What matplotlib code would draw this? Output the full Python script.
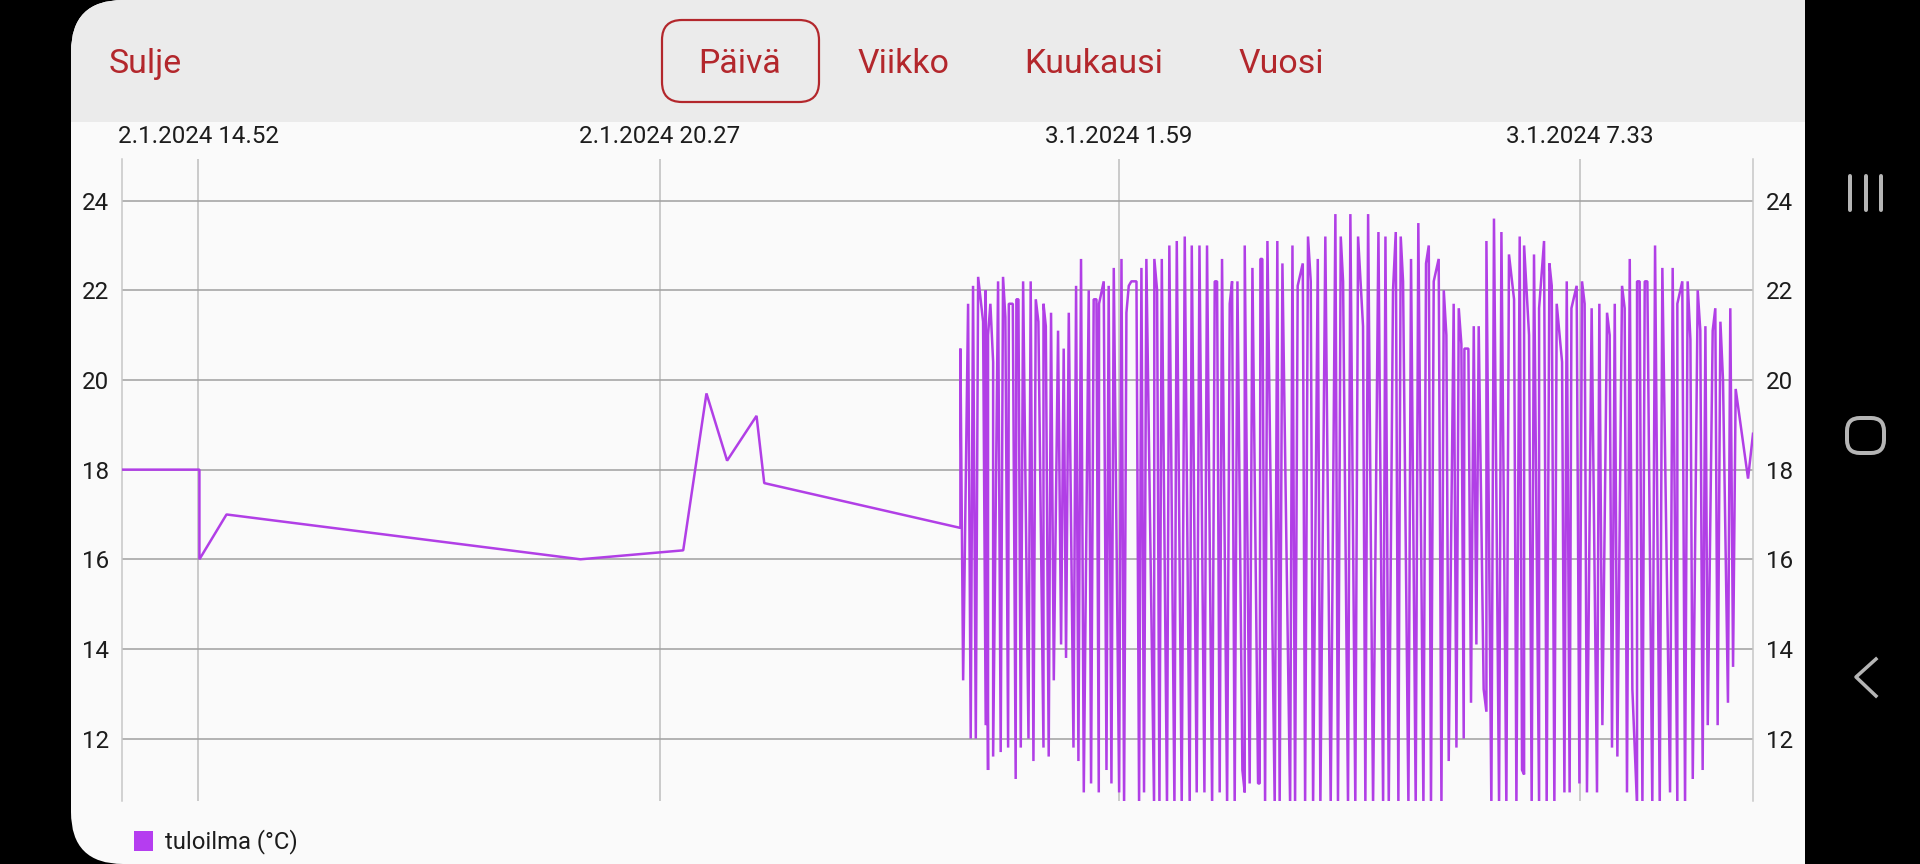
import matplotlib
matplotlib.use('Agg')
import matplotlib.pyplot as plt
from matplotlib.patches import FancyBboxPatch, Rectangle

# minutes after the first date tick (2.1.2024 14.52)
quiet_t = [-55.5, 1.0, 1.0, 20.7, 278, 352.7, 369.6, 384.6, 406, 411.6, 554.2]
quiet_v = [18, 18, 16, 17, 16, 16.2, 19.7, 18.2, 19.2, 17.7, 16.7]

evening_t = [554.2, 556.2, 559.8, 561.7, 563.4, 565.4, 567.1, 570.7, 572.6, 572.6,
             574.3, 574.3, 576.0, 578.0, 578.0, 581.6, 583.5, 585.2, 586.9, 588.9,
             589.4, 592.3, 594.4, 594.9, 596.4, 598.1, 599.8, 603.7, 605.3, 607.3,
             609.0, 610.9, 614.6, 614.6, 616.3, 618.4, 620.1, 622.1, 625.2, 627.4,
             629.3, 631.0, 633.0, 636.4, 638.3, 640.0, 641.9, 643.9, 647.5, 649.2,
             651.1, 653.1, 654.8, 655.0, 658.4, 660.4, 662.0, 664.0, 665.7, 669.6,
             671.3, 673.2, 674.9, 676.6, 678.5, 682.2, 684.1, 685.8, 687.7, 689.4,
             695.0, 695.2, 697.2, 698.9, 700.6, 704.4, 706.1, 709.8, 711.5, 715.1,
             717.3, 720.9, 722.4, 726.0, 728.0, 731.6, 733.5, 737.2, 739.1, 740.8,
             742.7, 744.4, 748.1, 750.0, 751.7, 753.6, 755.6]
evening_v = [20.7, 13.3, 21.7, 12.0, 22.1, 12.0, 22.3, 21.3, 12.3, 22.0,
             11.3, 21.0, 21.7, 20.4, 11.6, 22.2, 11.7, 22.3, 21.4, 11.8,
             21.7, 21.7, 11.1, 21.8, 21.8, 11.8, 22.2, 12.0, 22.2, 11.5,
             21.8, 21.3, 11.8, 21.7, 21.2, 11.6, 21.5, 13.3, 21.1, 14.1,
             20.7, 13.8, 21.5, 11.8, 22.1, 11.5, 22.7, 10.8, 22.0, 11.0,
             21.8, 21.8, 10.8, 21.7, 22.2, 11.3, 22.1, 11.0, 22.5, 10.8,
             22.7, 10.5, 21.5, 22.1, 22.2, 22.2, 10.5, 22.5, 10.8, 22.7,
             10.5, 22.7, 22.0, 10.5, 22.7, 10.5, 23.0, 10.5, 23.1, 10.5,
             23.2, 10.5, 23.0, 10.8, 23.0, 10.8, 23.0, 10.5, 22.2, 22.2,
             10.8, 22.7, 10.5, 21.7, 22.2, 10.5, 22.2]

night_t = [759.2, 760.9, 760.9, 764.5, 766.5, 770.6, 771.8, 772.3, 773.7, 775.7,
           777.4, 782.7, 784.6, 786.3, 788.3, 793.9, 795.6, 797.5, 799.4, 803.1,
           804.8, 806.9, 808.9, 810.6, 814.0, 815.9, 819.5, 823.4, 826.8, 828.7,
           830.7, 832.4, 836.0, 837.7, 841.3, 843.3, 846.9, 848.6, 850.6, 854.2,
           858.1, 861.5, 863.2, 865.6, 868.7, 870.7, 872.6, 874.3, 876.0, 879.9,
           881.8, 885.2, 887.1, 890.8, 892.7, 894.7, 896.3, 898.3, 901.9, 903.9,
           905.6, 907.5, 909.2, 912.8, 914.8, 916.5, 918.4, 920.1, 920.6, 923.5,
           925.4, 927.4, 929.3, 931.0, 934.6, 936.6, 936.6, 940.2, 942.1, 945.8,
           947.5, 951.1, 953.0, 956.7, 958.4]
night_v = [11.3, 10.8, 23.0, 11.0, 22.5, 11.0, 11.0, 22.7, 22.7, 10.5,
           23.1, 10.5, 23.1, 10.5, 22.6, 10.5, 23.0, 10.5, 22.1, 22.6,
           10.5, 23.2, 22.2, 10.5, 22.7, 10.5, 23.2, 10.5, 23.7, 10.5,
           23.2, 22.2, 10.5, 23.7, 10.5, 23.2, 21.2, 10.5, 23.7, 10.5,
           23.3, 10.5, 23.2, 10.5, 22.0, 23.3, 10.5, 23.2, 22.2, 10.5,
           22.7, 10.5, 23.5, 10.5, 22.6, 23.0, 10.5, 22.2, 22.7, 10.5,
           22.0, 21.0, 11.5, 21.7, 11.8, 21.6, 20.8, 12.0, 20.7, 20.7,
           12.8, 21.2, 14.1, 21.2, 13.1, 12.6, 23.1, 10.5, 23.6, 10.5,
           23.3, 10.5, 22.8, 21.8, 10.5]

morning_t = [960.8, 962.5, 964.0, 964.0, 967.6, 969.5, 971.2, 974.9, 974.9, 978.5,
             980.4, 982.4, 984.1, 986.0, 987.7, 991.6, 993.3, 995.0, 997.1, 998.4,
             1002.2, 1004.2, 1006.1, 1008.0, 1009.7, 1013.1, 1017.0, 1018.7, 1020.9, 1024.3,
             1026.2, 1027.9, 1029.9, 1031.8, 1035.2, 1037.1, 1038.8, 1040.8, 1042.7, 1046.1,
             1046.1, 1048.0, 1050.0, 1051.7, 1053.6, 1057.2, 1059.2, 1062.6, 1064.5, 1070.1,
             1072.0, 1075.4, 1075.4, 1079.0, 1081.0, 1082.9, 1084.9, 1086.6, 1090.2, 1092.1,
             1093.8, 1095.8, 1097.5, 1101.1, 1103.0, 1104.7, 1106.7, 1108.6, 1112.2, 1113.9,
             1115.9, 1117.8, 1126.8, 1130.4]
morning_v = [23.2, 11.3, 11.2, 23.0, 21.0, 10.5, 22.8, 10.5, 21.6, 23.1,
             10.5, 22.6, 22.1, 10.5, 21.7, 20.4, 10.8, 22.2, 10.8, 21.6,
             22.1, 11.0, 22.2, 21.7, 10.8, 21.6, 10.8, 21.7, 12.3, 21.5,
             21.0, 11.8, 21.7, 11.6, 22.1, 21.6, 10.8, 22.7, 13.1, 10.5,
             22.2, 22.2, 10.5, 22.2, 22.2, 10.5, 23.0, 10.5, 22.5, 10.8,
             22.5, 10.5, 21.7, 22.2, 10.5, 22.2, 20.9, 11.1, 22.0, 21.1,
             11.3, 21.2, 12.3, 21.1, 21.6, 12.3, 21.3, 20.0, 12.8, 21.6,
             13.6, 19.8, 17.8, 18.8]

y_ticks = [12, 14, 16, 18, 20, 22, 24]
date_ticks = [0, 335.5, 669.5, 1004.4]
date_labels = ['2.1.2024 14.52', '2.1.2024 20.27', '3.1.2024 1.59', '3.1.2024 7.33']
range_tabs = ['Päivä', 'Viikko', 'Kuukausi', 'Vuosi']
series_name = 'tuloilma (°C)'

RED = '#b3272c'
PURPLE = '#b13fe6'
INK = '#1c1c1c'
W, H = 1920, 864
px = 72 / 100  # one pixel in points

plt.rcParams['font.family'] = ['Roboto', 'DejaVu Sans']
fig = plt.figure(figsize=(W / 100, H / 100), dpi=100, facecolor='black')

# screen furniture, in pixel coordinates
bg = fig.add_axes([0, 0, 1, 1])
bg.set_xlim(0, W)
bg.set_ylim(H, 0)
bg.axis('off')
panel = FancyBboxPatch((71 + 52, 52), 1900 - 71 - 104, H - 104, boxstyle='round,pad=52,rounding_size=52',
                       fc='#fafafa', ec='none', zorder=1)
bg.add_patch(panel)
header = Rectangle((60, 0), 1800, 122, fc='#ebebeb', ec='none', zorder=2)
bg.add_patch(header)
header.set_clip_path(panel)
bg.add_patch(Rectangle((1805, 0), 115, H, fc='black', ec='none', zorder=3))

bg.text(109, 64, 'Sulje', color=RED, fontsize=24.4, ha='left', va='center', zorder=4)
for name, cx in zip(range_tabs, [740, 903.5, 1094, 1281]):
    bg.text(cx, 64, name, color=RED, fontsize=24.4, ha='center', va='center', zorder=4)
bg.add_patch(FancyBboxPatch((662 + 20, 20 + 20), 157 - 40, 82 - 40, boxstyle='round,pad=20,rounding_size=20',
                            fc='none', ec=RED, lw=2.2 * px, zorder=4))

# android nav buttons
for bx in [1850, 1866, 1881]:
    bg.plot([bx, bx], [176, 210], color='#b5b5b5', lw=4 * px, solid_capstyle='round', zorder=4)
bg.add_patch(FancyBboxPatch((1847 + 13, 418 + 13), 37 - 26, 35 - 26, boxstyle='round,pad=13,rounding_size=13',
                            fc='none', ec='#b5b5b5', lw=4 * px, zorder=4))
bg.plot([1876, 1856, 1876], [659, 677, 696], color='#b5b5b5', lw=3.5 * px, zorder=4)

# legend
bg.add_patch(Rectangle((133.5, 831), 19.5, 19.5, fc='#b53df0', ec='none', zorder=4))
bg.text(165, 841.5, series_name, color=INK, fontsize=17.2, ha='left', va='center', zorder=4)

# chart
left, right, top, bottom = 121.7, 1753, 158.5, 800.5
ax = fig.add_axes([left / W, 1 - bottom / H, (right - left) / W, (bottom - top) / H])
ax.patch.set_alpha(0)
ax.plot(quiet_t + evening_t + night_t + morning_t, quiet_v + evening_v + night_v + morning_v,
        color=PURPLE, lw=2.5 * px, solid_joinstyle='bevel', zorder=3)
ax.set_xlim(-55.5, 1130.4)
ax.set_ylim(10.62, 24.94)

ax.set_yticks(y_ticks)
ax.set_xticks(date_ticks)
ax.set_xticklabels(date_labels)
ax.grid(True, axis='y', color='#a3a3a3', lw=1.6 * px, zorder=1)
ax.grid(True, axis='x', color='#bcbcbc', lw=1.5 * px, zorder=1)
ax.set_axisbelow(True)

ax.tick_params(axis='both', length=0, labelsize=17.4, labelcolor=INK)
ax.tick_params(axis='x', bottom=False, labelbottom=False, top=False, labeltop=True, pad=7.5)
ax.tick_params(axis='y', left=False, right=False, labelleft=True, labelright=True, pad=9)

for side in ['top', 'bottom']:
    ax.spines[side].set_visible(False)
for side in ['left', 'right']:
    ax.spines[side].set_color('#c6c6c6')
    ax.spines[side].set_linewidth(1.5 * px)

fig.savefig('out.png', dpi=100, facecolor='black')
